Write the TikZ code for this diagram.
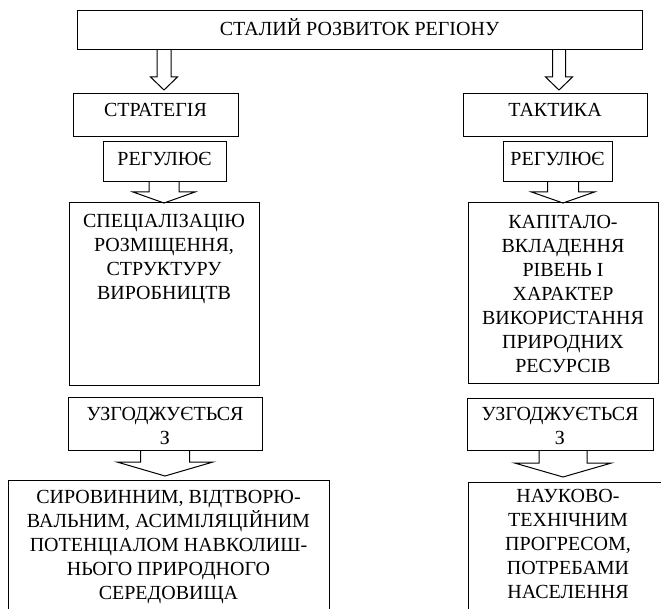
\documentclass[tikz,border=0pt]{standalone}
\usepackage{fontspec}
\setmainfont{Liberation Serif}
\usetikzlibrary{calc}
\tikzset{
  box/.style={draw, line width=1pt, inner sep=0pt, outer sep=0pt, anchor=north west},
  arrline/.style={draw, line width=1pt, line join=miter},
}
% width, height, first-line height, text
\newcommand{\bx}[4]{\parbox[c][#2pt][t]{#1pt}{\centering\fontsize{20}{24}\selectfont\rule{0pt}{#3pt}#4\par}}
% block arrow: source, target, x, half shaft, half head, head length, gap
\newcommand{\barrow}[7]{%
  \draw[arrline] let \p1=(#1.south), \p2=(#2.north) in
    ({#3-#4},\y1) -- ({#3-#4},{\y2+#7pt+#6pt}) -- ({#3-#5},{\y2+#7pt+#6pt})
    -- ({#3},{\y2+#7pt}) -- ({#3+#5},{\y2+#7pt+#6pt}) -- ({#3+#4},{\y2+#7pt+#6pt})
    -- ({#3+#4},\y1);}
\begin{document}
\begin{tikzpicture}[x=1pt,y=-1pt]
\useasboundingbox (0,0) rectangle (661,609);
\clip (0,0) rectangle (661,609);
\node[box] (top) at (77,11) {\bx{565}{39}{25}{СТАЛИЙ РОЗВИТОК РЕГІОНУ}};
% left column
\node[box] (strat) at (73,94) {\bx{165}{43}{23}{СТРАТЕГІЯ}};
\node[box] (reg1) at (103,142) {\bx{123}{40}{24}{РЕГУЛЮЄ}};
\node[box] (spec) at (69,203) {\bx{190}{182}{25}{СПЕЦІАЛІЗАЦІЮ\\РОЗМІЩЕННЯ,\\СТРУКТУРУ\\ВИРОБНИЦТВ}};
\node[box] (uzg1) at (68,397) {\bx{194}{53}{23}{УЗГОДЖУЄТЬСЯ\\З}};
\node[box] (bot1) at (8,480) {\bx{321}{150}{23}{СИРОВИННИМ, ВІДТВОРЮ-\\ВАЛЬНИМ, АСИМІЛЯЦІЙНИМ\\ПОТЕНЦІАЛОМ НАВКОЛИШ-\\НЬОГО ПРИРОДНОГО\\СЕРЕДОВИЩА}};
% right column
\node[box] (takt) at (463,94) {\bx{184}{43}{23}{ТАКТИКА}};
\node[box] (reg2) at (503,142) {\bx{109}{40}{24}{РЕГУЛЮЄ}};
\node[box] (cap) at (468,203) {\bx{190}{180}{26}{КАПІТАЛО-\\ВКЛАДЕННЯ\\РІВЕНЬ І\\ХАРАКТЕР\\ВИКОРИСТАННЯ\\ПРИРОДНИХ\\РЕСУРСІВ}};
\node[box] (uzg2) at (467,398) {\bx{186}{52}{22}{УЗГОДЖУЄТЬСЯ\\З}};
\node[box] (bot2) at (468,482) {\bx{200}{150}{20}{НАУКОВО-\\ТЕХНІЧНИМ\\ПРОГРЕСОМ,\\ПОТРЕБАМИ\\НАСЕЛЕННЯ}};
% arrows
\barrow{top}{strat}{164}{7}{13.5}{13}{4}
\barrow{top}{takt}{559}{6.5}{13.5}{13}{4}
\barrow{reg1}{spec}{164}{15}{31}{11}{0}
\barrow{reg2}{cap}{563}{15.5}{31.5}{11}{0}
\barrow{uzg1}{bot1}{165}{24.5}{48}{14}{4}
\barrow{uzg2}{bot2}{563}{24}{48.5}{14}{5}
\end{tikzpicture}
\end{document}
